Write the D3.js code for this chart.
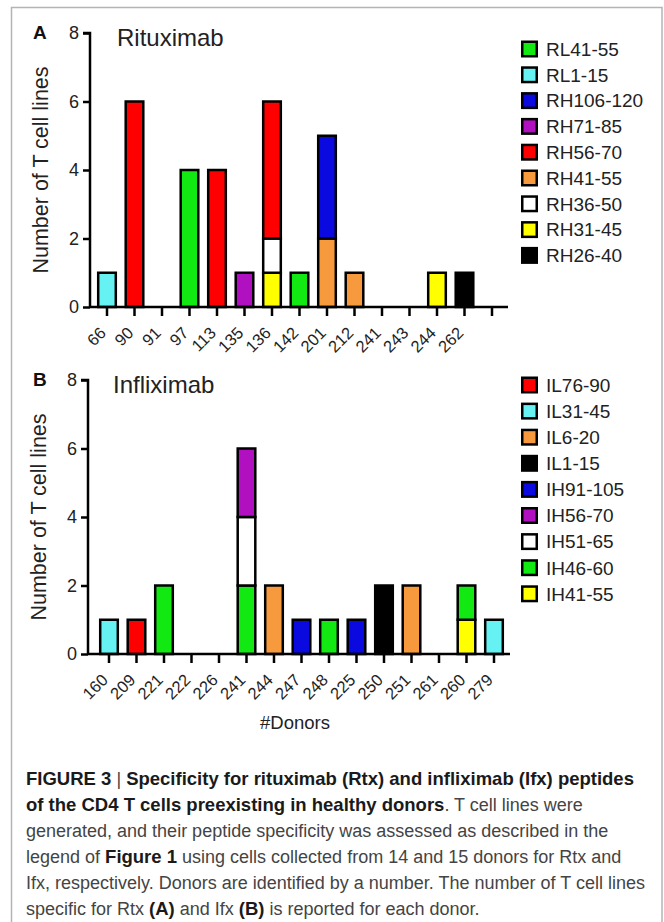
<!DOCTYPE html>
<html>
<head>
<meta charset="utf-8">
<script src="https://cdn.jsdelivr.net/npm/d3@7"></script>
<style>
  body { margin: 0; background: #fff; }
  svg { display: block; font-family: "Liberation Sans", Arial, sans-serif; }
  .axis path, .axis line { stroke: #000; stroke-width: 2.5; }
  .axis text { fill: #222; }
</style>
</head>
<body>
<div id="chart"></div>
<script>
// Panel A: rituximab
const rtxDonors = ["66", "90", "91", "97", "113", "135", "136", "142", "201", "212", "241", "243", "244", "262"];
const rtxPeptides = ["RL41-55", "RL1-15", "RH106-120", "RH71-85", "RH56-70", "RH41-55", "RH36-50", "RH31-45", "RH26-40"];
const rtxColors = ["#12e812", "#66f2f2", "#0a0ae0", "#b010c0", "#ff0000", "#f79a3e", "#ffffff", "#ffff00", "#000000"];
const rtxCounts = [
  [0, 0, 0, 4, 0, 0, 0, 1, 0, 0, 0, 0, 0, 0],
  [1, 0, 0, 0, 0, 0, 0, 0, 0, 0, 0, 0, 0, 0],
  [0, 0, 0, 0, 0, 0, 0, 0, 3, 0, 0, 0, 0, 0],
  [0, 0, 0, 0, 0, 1, 0, 0, 0, 0, 0, 0, 0, 0],
  [0, 6, 0, 0, 4, 0, 4, 0, 0, 0, 0, 0, 0, 0],
  [0, 0, 0, 0, 0, 0, 0, 0, 2, 1, 0, 0, 0, 0],
  [0, 0, 0, 0, 0, 0, 1, 0, 0, 0, 0, 0, 0, 0],
  [0, 0, 0, 0, 0, 0, 1, 0, 0, 0, 0, 0, 1, 0],
  [0, 0, 0, 0, 0, 0, 0, 0, 0, 0, 0, 0, 0, 1]
];

// Panel B: infliximab
const ifxDonors = ["160", "209", "221", "222", "226", "241", "244", "247", "248", "225", "250", "251", "261", "260", "279"];
const ifxPeptides = ["IL76-90", "IL31-45", "IL6-20", "IL1-15", "IH91-105", "IH56-70", "IH51-65", "IH46-60", "IH41-55"];
const ifxColors = ["#ff0000", "#66f2f2", "#f79a3e", "#000000", "#0a0ae0", "#b010c0", "#ffffff", "#12e812", "#ffff00"];
const ifxCounts = [
  [0, 1, 0, 0, 0, 0, 0, 0, 0, 0, 0, 0, 0, 0, 0],
  [1, 0, 0, 0, 0, 0, 0, 0, 0, 0, 0, 0, 0, 0, 1],
  [0, 0, 0, 0, 0, 0, 2, 0, 0, 0, 0, 2, 0, 0, 0],
  [0, 0, 0, 0, 0, 0, 0, 0, 0, 0, 2, 0, 0, 0, 0],
  [0, 0, 0, 0, 0, 0, 0, 1, 0, 1, 0, 0, 0, 0, 0],
  [0, 0, 0, 0, 0, 2, 0, 0, 0, 0, 0, 0, 0, 0, 0],
  [0, 0, 0, 0, 0, 2, 0, 0, 0, 0, 0, 0, 0, 0, 0],
  [0, 0, 2, 0, 0, 2, 0, 0, 1, 0, 0, 0, 0, 1, 0],
  [0, 0, 0, 0, 0, 0, 0, 0, 0, 0, 0, 0, 0, 1, 0]
];

const yTicks = [0, 2, 4, 6, 8];

const W = 664, H = 922;
const svg = d3.select("#chart").append("svg")
  .attr("width", W)
  .attr("height", H);

// figure frame
svg.append("rect")
  .attr("x", 11.5).attr("y", 7.5)
  .attr("width", 650.5).attr("height", 940)
  .attr("fill", "none")
  .attr("stroke", "#b4b4b4")
  .attr("stroke-width", 1.5);

function panel(opt) {
  const g = svg.append("g");
  // slots: the Rtx panel has an extra empty tick at the end
  const slots = opt.donors.map((d, i) => "d" + i);
  if (opt.extraSlot) slots.push("extra");

  const x = d3.scaleBand()
    .domain(slots)
    .range([opt.x0, opt.x1])
    .paddingInner(0.36)
    .paddingOuter(0.18);

  const y = d3.scaleLinear()
    .domain([0, 8])
    .range([opt.yBottom, opt.yTop]);

  // table for the stack, one row per donor
  const rows = opt.donors.map((d, i) => {
    const r = { slot: "d" + i };
    opt.peptides.forEach((p, k) => { r[p] = opt.counts[k][i]; });
    return r;
  });

  // bottom of the stack is the last legend entry
  const keys = opt.peptides.slice().reverse();
  const series = d3.stack().keys(keys)(rows);

  const color = d3.scaleOrdinal().domain(opt.peptides).range(opt.colors);

  series.forEach(s => {
    g.append("g")
      .selectAll("rect")
      .data(s.filter(d => d[1] - d[0] > 0))
      .enter()
      .append("rect")
      .attr("x", d => x(d.data.slot))
      .attr("y", d => y(d[1]))
      .attr("width", x.bandwidth())
      .attr("height", d => y(d[0]) - y(d[1]))
      .attr("fill", color(s.key))
      .attr("stroke", "#000")
      .attr("stroke-width", 2.5);
  });

  // y axis
  const yAxis = g.append("g")
    .attr("class", "axis")
    .attr("transform", "translate(" + opt.axisX + ",0)")
    .call(d3.axisLeft(y).tickValues(yTicks).tickSize(7).tickPadding(4).tickSizeOuter(0));
  yAxis.select(".domain").attr("d", "M0," + (opt.yBottom + 1) + "V" + opt.yTop + "h-7");
  yAxis.selectAll("text").style("font-size", "18px");

  // x axis
  const xAxis = g.append("g")
    .attr("class", "axis")
    .attr("transform", "translate(0," + opt.yBottom + ")")
    .call(d3.axisBottom(x).tickSize(9).tickSizeOuter(0)
      .tickFormat(s => s === "extra" ? "" : opt.donors[+s.slice(1)]));
  xAxis.select(".domain").attr("d", "M" + opt.axisX + ",0H" + opt.axisEnd);
  xAxis.selectAll("text")
    .style("font-size", "16.5px")
    .attr("text-anchor", "end")
    .attr("x", 0).attr("y", 0).attr("dy", null)
    .attr("transform", "translate(0,27) rotate(-45)");

  // y label
  g.append("text")
    .attr("transform", "translate(" + (opt.axisX - 42) + "," + ((opt.yTop + opt.yBottom) / 2) + ") rotate(-90)")
    .attr("text-anchor", "middle")
    .style("font-size", "21.5px")
    .attr("fill", "#222")
    .text("Number of T cell lines");

  // panel letter
  g.append("text")
    .attr("x", 33).attr("y", opt.yTop + 6)
    .style("font-size", "19px")
    .style("font-weight", "bold")
    .attr("fill", "#111")
    .text(opt.letter);

  // drug name
  g.append("text")
    .attr("x", opt.titleX).attr("y", opt.yTop + 13)
    .style("font-size", "24px")
    .attr("fill", "#222")
    .text(opt.title);

  // legend
  const lg = g.append("g");
  const item = lg.selectAll("g")
    .data(opt.peptides)
    .enter()
    .append("g")
    .attr("transform", (d, i) => "translate(521," + (opt.legendY + i * opt.legendStep) + ")");
  item.append("rect")
    .attr("x", 1.25).attr("y", -7.25)
    .attr("width", 14.5).attr("height", 14.5)
    .attr("fill", d => color(d))
    .attr("stroke", "#000")
    .attr("stroke-width", 2.5);
  item.append("text")
    .attr("x", 25).attr("dy", "0.36em")
    .style("font-size", "19px")
    .attr("fill", "#222")
    .text(d => d);
}

panel({
  letter: "A", title: "Rituximab", titleX: 117,
  donors: rtxDonors, peptides: rtxPeptides, colors: rtxColors, counts: rtxCounts,
  extraSlot: true,
  x0: 93.25, x1: 505.75, axisX: 90, axisEnd: 508,
  yTop: 33, yBottom: 307,
  legendY: 49, legendStep: 25.8
});

panel({
  letter: "B", title: "Infliximab", titleX: 113,
  donors: ifxDonors, peptides: ifxPeptides, colors: ifxColors, counts: ifxCounts,
  extraSlot: false,
  x0: 95.25, x1: 507.75, axisX: 88, axisEnd: 510,
  yTop: 380, yBottom: 654,
  legendY: 385, legendStep: 26.1
});

svg.append("text")
  .attr("x", 295).attr("y", 729)
  .attr("text-anchor", "middle")
  .style("font-size", "18.5px")
  .attr("fill", "#222")
  .text("#Donors");

// caption
const caption = [
  [["FIGURE 3 ", true], ["| ", false], ["Specificity for rituximab (Rtx) and infliximab (Ifx) peptides", true]],
  [["of the CD4 T cells preexisting in healthy donors", true], [". T cell lines were", false]],
  [["generated, and their peptide specificity was assessed as described in the", false]],
  [["legend of ", false], ["Figure 1", true], [" using cells collected from 14 and 15 donors for Rtx and", false]],
  [["Ifx, respectively. Donors are identified by a number. The number of T cell lines", false]],
  [["specific for Rtx ", false], ["(A)", true], [" and Ifx ", false], ["(B)", true], [" is reported for each donor.", false]]
];

const cap = svg.append("g");
caption.forEach((line, i) => {
  const t = cap.append("text")
    .attr("x", 26)
    .attr("y", 785 + i * 26)
    .attr("fill", "#2a2a2a");
  line.forEach(part => {
    t.append("tspan")
      .style("font-weight", part[1] ? "bold" : "normal")
      .style("font-size", part[1] ? "18.5px" : "18px")
      .attr("fill", part[1] ? "#1a1a1a" : "#444")
      .text(part[0]);
  });
});
</script>
</body>
</html>
